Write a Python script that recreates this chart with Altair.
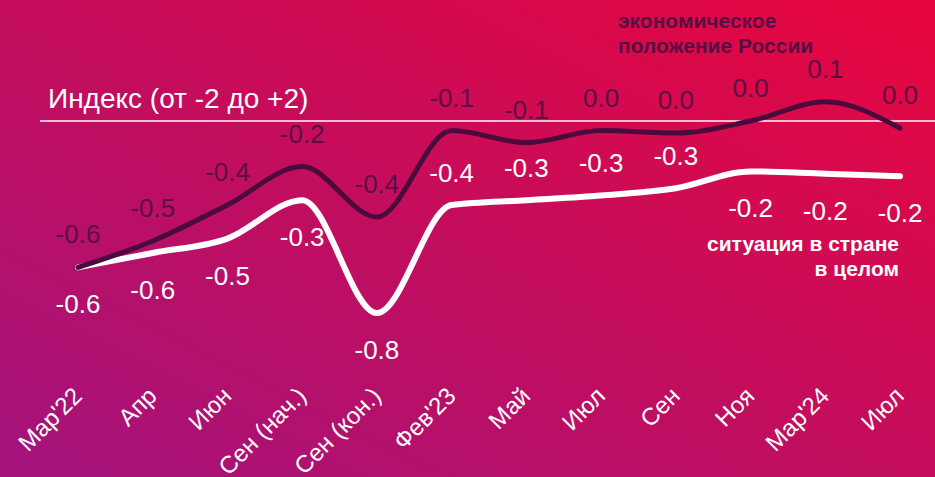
import altair as alt
import pandas as pd

months = ["Мар'22", "Апр", "Июн", "Сен (нач.)", "Сен (кон.)", "Фев'23",
          "Май", "Июл", "Сен", "Ноя", "Мар'24", "Июл "]
economy = [-0.61, -0.50, -0.35, -0.19, -0.40, -0.04, -0.09, -0.04, -0.05, 0.00, 0.08, -0.03]
economy_labels = ["-0.6", "-0.5", "-0.4", "-0.2", "-0.4", "-0.1", "-0.1", "0.0", "0.0", "0.0", "0.1", "0.0"]
country = [-0.61, -0.55, -0.49, -0.33, -0.80, -0.35, -0.33, -0.31, -0.28, -0.21, -0.22, -0.23]
country_labels = ["-0.6", "-0.6", "-0.5", "-0.3", "-0.8", "-0.4", "-0.3", "-0.3", "-0.3", "-0.2", "-0.2", "-0.2"]
country_label_side = ["below", "below", "below", "below", "below", "above",
                      "above", "above", "above", "below", "below", "below"]

df = pd.DataFrame({
    "month": months,
    "order": list(range(len(months))),
    "economy": economy,
    "economy_label": economy_labels,
    "country": country,
    "country_label": country_labels,
    "side": country_label_side,
})

FONT = "Liberation Sans"
L, T, R, B = 40, 13, 0, 104
W, H = 935 - L - R, 477 - T - B
DARK = "#4a0a3e"

x_enc = alt.X("month:N", sort=months,
              scale=alt.Scale(type="point", range=[38, 860], padding=0),
              axis=alt.Axis(title=None, labelAngle=-45, labelAlign="right", labelBaseline="middle",
                            labelColor="white", labelFont=FONT, labelFontSize=24, labelPadding=19,
                            domain=False, ticks=False, grid=False, zindex=1,
                            labelExpr="trim(datum.label)"))
y_scale = alt.Scale(domain=[-1.05, 0.45], nice=False, zero=False)
y_axis = None

base = alt.Chart(df)

bg = alt.Chart(pd.DataFrame({"a": [0]})).mark_rect(
    fill=alt.LinearGradient(
        gradient="linear",
        stops=[alt.GradientStop(color="#a3137c", offset=0),
               alt.GradientStop(color="#c40d5c", offset=0.5),
               alt.GradientStop(color="#e8063e", offset=1)],
        x1=0, y1=1, x2=1, y2=0),
).encode(x=alt.value(-L), x2=alt.value(W + R), y=alt.value(-T), y2=alt.value(H + B))

zero_rule = alt.Chart(pd.DataFrame({"z": [0]})).mark_rule(
    color="#f2dde6", strokeWidth=2, opacity=0.85
).encode(y=alt.Y("z:Q", scale=y_scale, axis=y_axis))

index_title = alt.Chart(pd.DataFrame({"t": ["Индекс (от -2 до +2)"]})).mark_text(
    align="left", baseline="alphabetic", font=FONT, fontSize=28, color="white"
).encode(text="t:N", x=alt.value(8), y=alt.value(95))

line_country = base.mark_line(interpolate="monotone", color="white", strokeWidth=6,
                              strokeCap="round").encode(
    x=x_enc, y=alt.Y("country:Q", scale=y_scale, axis=y_axis), order="order:Q")
line_economy = base.mark_line(interpolate="monotone", color=DARK, strokeWidth=5,
                              strokeCap="round").encode(
    x=x_enc, y=alt.Y("economy:Q", scale=y_scale, axis=y_axis), order="order:Q")

lab_economy = base.mark_text(font=FONT, fontSize=26, color="#5a0e45", dy=-32,
                             baseline="middle").encode(
    x=x_enc, y=alt.Y("economy:Q", scale=y_scale, axis=y_axis), text="economy_label:N")
lab_country_below = base.transform_filter(alt.datum.side == "below").mark_text(
    font=FONT, fontSize=26, color="white", dy=38, baseline="middle").encode(
    x=x_enc, y=alt.Y("country:Q", scale=y_scale, axis=y_axis), text="country_label:N")
lab_country_above = base.transform_filter(alt.datum.side == "above").mark_text(
    font=FONT, fontSize=26, color="white", dy=-31, baseline="middle").encode(
    x=x_enc, y=alt.Y("country:Q", scale=y_scale, axis=y_axis), text="country_label:N")

legend_economy = alt.Chart(pd.DataFrame({"t": [["экономическое", "положение России"]]})).mark_text(
    align="left", baseline="middle", font=FONT, fontSize=21, fontWeight="bold",
    color="#560d43", lineHeight=25
).encode(text="t", x=alt.value(578), y=alt.value(9))

legend_country = alt.Chart(pd.DataFrame({"t": [["ситуация в стране", "в целом"]]})).mark_text(
    align="right", baseline="middle", font=FONT, fontSize=21, fontWeight="bold",
    color="white", lineHeight=25
).encode(text="t", x=alt.value(859), y=alt.value(232))

chart = alt.layer(
    bg, zero_rule, index_title, line_country, line_economy,
    lab_economy, lab_country_below, lab_country_above, legend_economy, legend_country
).properties(
    width=W, height=H,
    autosize=alt.AutoSizeParams(type="none"),
    padding={"left": L, "top": T, "right": R, "bottom": B},
).configure_view(stroke=None).configure(background="#c20d5e")

chart.save("out.html", embed_options={"renderer": "svg", "actions": False})
